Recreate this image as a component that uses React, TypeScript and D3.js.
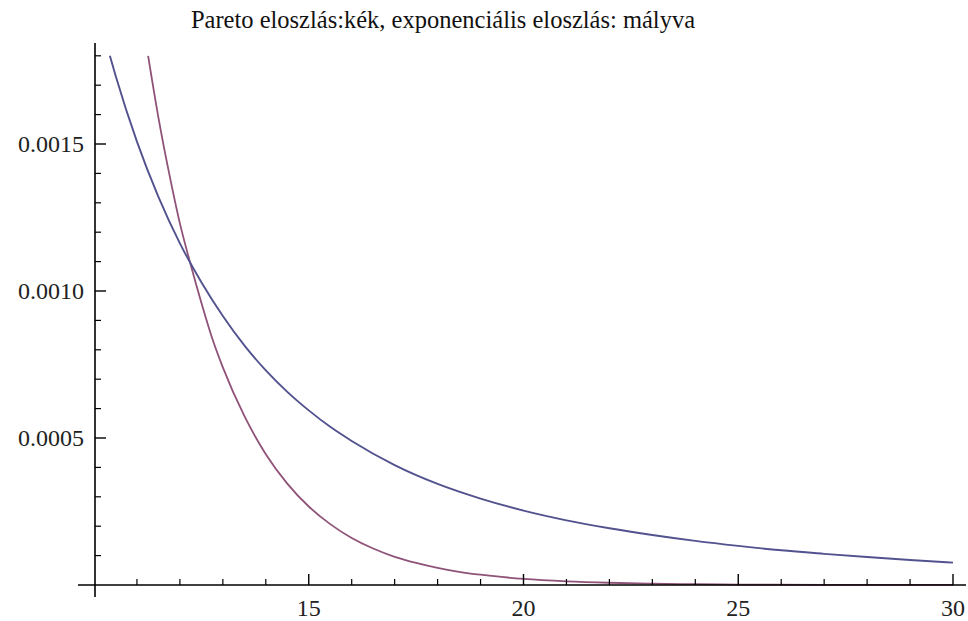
import React from "react";
import * as d3 from "d3";

const W = 968;
const H = 621;

const TITLE = "Pareto eloszlás:kék, exponenciális eloszlás: mályva";

// Pareto (kék) – értékek
const paretoX = [10.37, 10.5, 11.0, 11.5, 12.0, 12.5, 13.0, 13.5, 14.0, 14.5, 15.0, 15.5, 16.0, 17.0, 18.0, 19.0, 20.0, 21.0, 22.0, 23.0, 24.0, 25.0, 26.0, 27.0, 28.0, 29.0, 30.0];
const paretoY = [0.0018, 0.001734, 0.001508, 0.00132, 0.001162, 0.00103, 0.000915, 0.000815, 0.00073, 0.000657, 0.000594, 0.000538, 0.00049, 0.000408, 0.000344, 0.000294, 0.000253, 0.00022, 0.000193, 0.00017, 0.00015, 0.000133, 0.000118, 0.000106, 0.000095, 0.000085, 0.000076];

// exponenciális (mályva)
const expX = [11.26, 11.5, 11.75, 12.0, 12.25, 12.5, 12.75, 13.0, 13.5, 14.0, 14.5, 15.0, 15.5, 16.0, 16.5, 17.0, 17.5, 18.0, 18.5, 19.0, 20.0, 21.0, 22.0, 23.0, 24.0, 25.0, 27.0, 30.0];
const expY = [0.0018, 0.00159, 0.0014, 0.00123, 0.00109, 0.00096, 0.00084, 0.00074, 0.000575, 0.000445, 0.000345, 0.000267, 0.000207, 0.00016, 0.000124, 0.000096, 0.000075, 0.000058, 0.000045, 0.000035, 0.000021, 0.0000126, 0.0000076, 0.0000045, 0.0000027, 0.0000016, 0.0000006, 0.00000014];

const xMajor = [15, 20, 25, 30];
const xMinor = [11, 12, 13, 14, 16, 17, 18, 19, 21, 22, 23, 24, 26, 27, 28, 29];
const yMajor = [0.0005, 0.001, 0.0015];
const yMinor = [0.0001, 0.0002, 0.0003, 0.0004, 0.0006, 0.0007, 0.0008, 0.0009, 0.0011, 0.0012, 0.0013, 0.0014, 0.0016, 0.0017, 0.0018];
const yLabels = ["0.0005", "0.0010", "0.0015"];

const BLUE = "#52528f";
const MAUVE = "#8f5278";

export default function App() {
  const x = d3.scaleLinear().domain([10, 30]).range([94, 953]);
  const y = d3.scaleLinear().domain([0, 0.0015]).range([585, 144]);

  const line = d3
    .line<[number, number]>()
    .x((d) => x(d[0]))
    .y((d) => y(d[1]))
    .curve(d3.curveMonotoneX);

  const pareto = paretoX.map((v, i) => [v, paretoY[i]] as [number, number]);
  const expo = expX.map((v, i) => [v, expY[i]] as [number, number]);

  const font = "'Liberation Serif', 'Times New Roman', serif";
  const x0 = x(10);
  const y0 = y(0);

  return (
    <svg
      width={W}
      height={H}
      viewBox={`0 0 ${W} ${H}`}
      style={{ position: "absolute", left: 0, top: 0, background: "#fff" }}
    >
      <rect width={W} height={H} fill="#fff" />
      <text x={443} y={28} textAnchor="middle" fontFamily={font} fontSize={24.5} fill="#111">
        {TITLE}
      </text>

      {/* görbék */}
      <path d={line(expo) ?? ""} fill="none" stroke={MAUVE} strokeWidth={1.8} />
      <path d={line(pareto) ?? ""} fill="none" stroke={BLUE} strokeWidth={1.9} />

      {/* tengelyek */}
      <line x1={78} x2={966} y1={y0} y2={y0} stroke="#000" strokeWidth={1.6} />
      <line x1={x0 + 1} x2={x0 + 1} y1={43} y2={597} stroke="#000" strokeWidth={1.6} />

      {xMajor.map((t) => (
        <line key={"xM" + t} x1={x(t)} x2={x(t)} y1={y0} y2={y0 - 11} stroke="#000" strokeWidth={1.4} />
      ))}
      {xMinor.map((t) => (
        <line key={"xm" + t} x1={x(t)} x2={x(t)} y1={y0} y2={y0 - 6} stroke="#000" strokeWidth={1.2} />
      ))}
      {yMajor.map((t) => (
        <line key={"yM" + t} x1={x0 + 1} x2={x0 + 12} y1={y(t)} y2={y(t)} stroke="#000" strokeWidth={1.4} />
      ))}
      {yMinor.map((t) => (
        <line key={"ym" + t} x1={x0 + 1} x2={x0 + 7} y1={y(t)} y2={y(t)} stroke="#000" strokeWidth={1.2} />
      ))}

      {xMajor.map((t) => (
        <text key={"xl" + t} x={x(t)} y={616} textAnchor="middle" fontFamily={font} fontSize={24} fill="#222">
          {t}
        </text>
      ))}
      {yMajor.map((t, i) => (
        <text key={"yl" + t} x={84} y={y(t) + 8} textAnchor="end" fontFamily={font} fontSize={24} fill="#222">
          {yLabels[i]}
        </text>
      ))}
    </svg>
  );
}
